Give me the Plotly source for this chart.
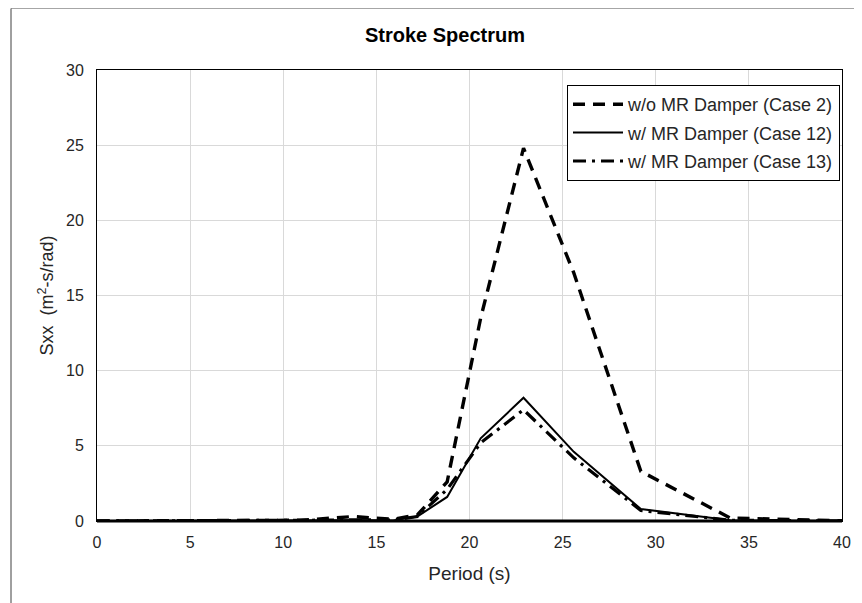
import plotly.graph_objects as go

# Data
period = [0, 10.4, 10.9, 11.5, 12.2, 12.95, 13.8, 14.8, 15.9, 17.2, 18.8, 20.6, 22.9, 25.6, 29.2, 34.0, 40.5]
case2 = [0, 0, 0.05, 0.1, 0.15, 0.2, 0.3, 0.2, 0.12, 0.4, 2.6, 13.5, 24.8, 16.5, 3.3, 0.2, 0]
case12 = [0, 0, 0.02, 0.03, 0.04, 0.05, 0.06, 0.05, 0.04, 0.3, 1.6, 5.5, 8.2, 4.6, 0.8, 0.05, 0]
case13 = [0, 0, 0.03, 0.05, 0.06, 0.08, 0.1, 0.08, 0.06, 0.3, 2.1, 5.2, 7.4, 4.2, 0.7, 0.05, 0]

names = ["w/o MR Damper (Case 2)", "w/ MR Damper (Case 12)", "w/ MR Damper (Case 13)"]
x_ticks = [0, 5, 10, 15, 20, 25, 30, 35, 40]
y_ticks = [0, 5, 10, 15, 20, 25, 30]

FONT = "Liberation Sans, Arial, sans-serif"
TXT = "#262626"

fig = go.Figure()
fig.add_trace(go.Scatter(x=period, y=case2, mode="lines", name=names[0], legendgroup="a",
                         line=dict(color="black", width=3.4, dash="12px,8px")))
fig.add_trace(go.Scatter(x=period, y=case12, mode="lines", name=names[1], legendgroup="b",
                         line=dict(color="black", width=2)))
fig.add_trace(go.Scatter(x=period, y=case13, mode="lines", name=names[2], legendgroup="c",
                         line=dict(color="black", width=3.2, dash="13px,6px,3px,6px")))

# page has an 8px body margin; figure coordinates = page coordinates - 8
OFF = 8
W, H = 862 - OFF, 603 - OFF
L, T = 97 - OFF, 70 - OFF
R = W - (842 - OFF)
B = H - (521 - OFF)
pw, ph = W - L - R, H - T - B


def px_x(px):  # page x -> paper x
    return (px - OFF - L) / pw


def px_y(py):  # page y -> paper y
    return (H - B - (py - OFF)) / ph


fig.update_layout(
    width=W, height=H,
    margin=dict(l=L, r=R, t=T, b=B),
    paper_bgcolor="white", plot_bgcolor="white",
    font=dict(family=FONT, size=16, color=TXT),
    title=dict(text="<b>Stroke Spectrum</b>", x=(445 - OFF) / W, xanchor="center",
               y=1 - (35 - OFF) / H, yanchor="middle", font=dict(size=20, color="black")),
    showlegend=True,
    legend=dict(x=px_x(567), y=px_y(85), xanchor="left", yanchor="top",
                bgcolor="white", bordercolor="black", borderwidth=1,
                traceorder="grouped", tracegroupgap=2,
                font=dict(size=18, color=TXT), itemwidth=50),
    xaxis=dict(range=[0, 40], tickvals=x_ticks, showgrid=True, gridcolor="#d9d9d9",
               gridwidth=1, zeroline=False, showline=True, linecolor="black", linewidth=1,
               mirror=True, ticks="", ticklabelstandoff=7, tickfont=dict(size=16, color=TXT),
               title=dict(text="Period (s)", font=dict(size=19, color=TXT), standoff=16)),
    yaxis=dict(range=[0, 30], tickvals=y_ticks, showgrid=True, gridcolor="#d9d9d9",
               gridwidth=1, zeroline=False, showline=True, linecolor="black", linewidth=1,
               mirror=True, ticks="", ticklabelstandoff=9, tickfont=dict(size=16, color=TXT),
               title=dict(text="Sxx  (m<sup>2</sup>-s/rad)", font=dict(size=18, color=TXT),
                          standoff=7)),
    shapes=[
        dict(type="line", xref="paper", yref="paper",
             x0=px_x(11), x1=px_x(870), y0=px_y(8.5), y1=px_y(8.5),
             line=dict(color="#a6a6a6", width=1)),
        dict(type="line", xref="paper", yref="paper",
             x0=px_x(11), x1=px_x(11), y0=px_y(8.5), y1=px_y(610),
             line=dict(color="#404040", width=1)),
        dict(type="line", xref="paper", yref="paper",
             x0=0, x1=1, y0=0, y1=0, line=dict(color="black", width=3)),
    ],
)

fig.write_html("out.html")
